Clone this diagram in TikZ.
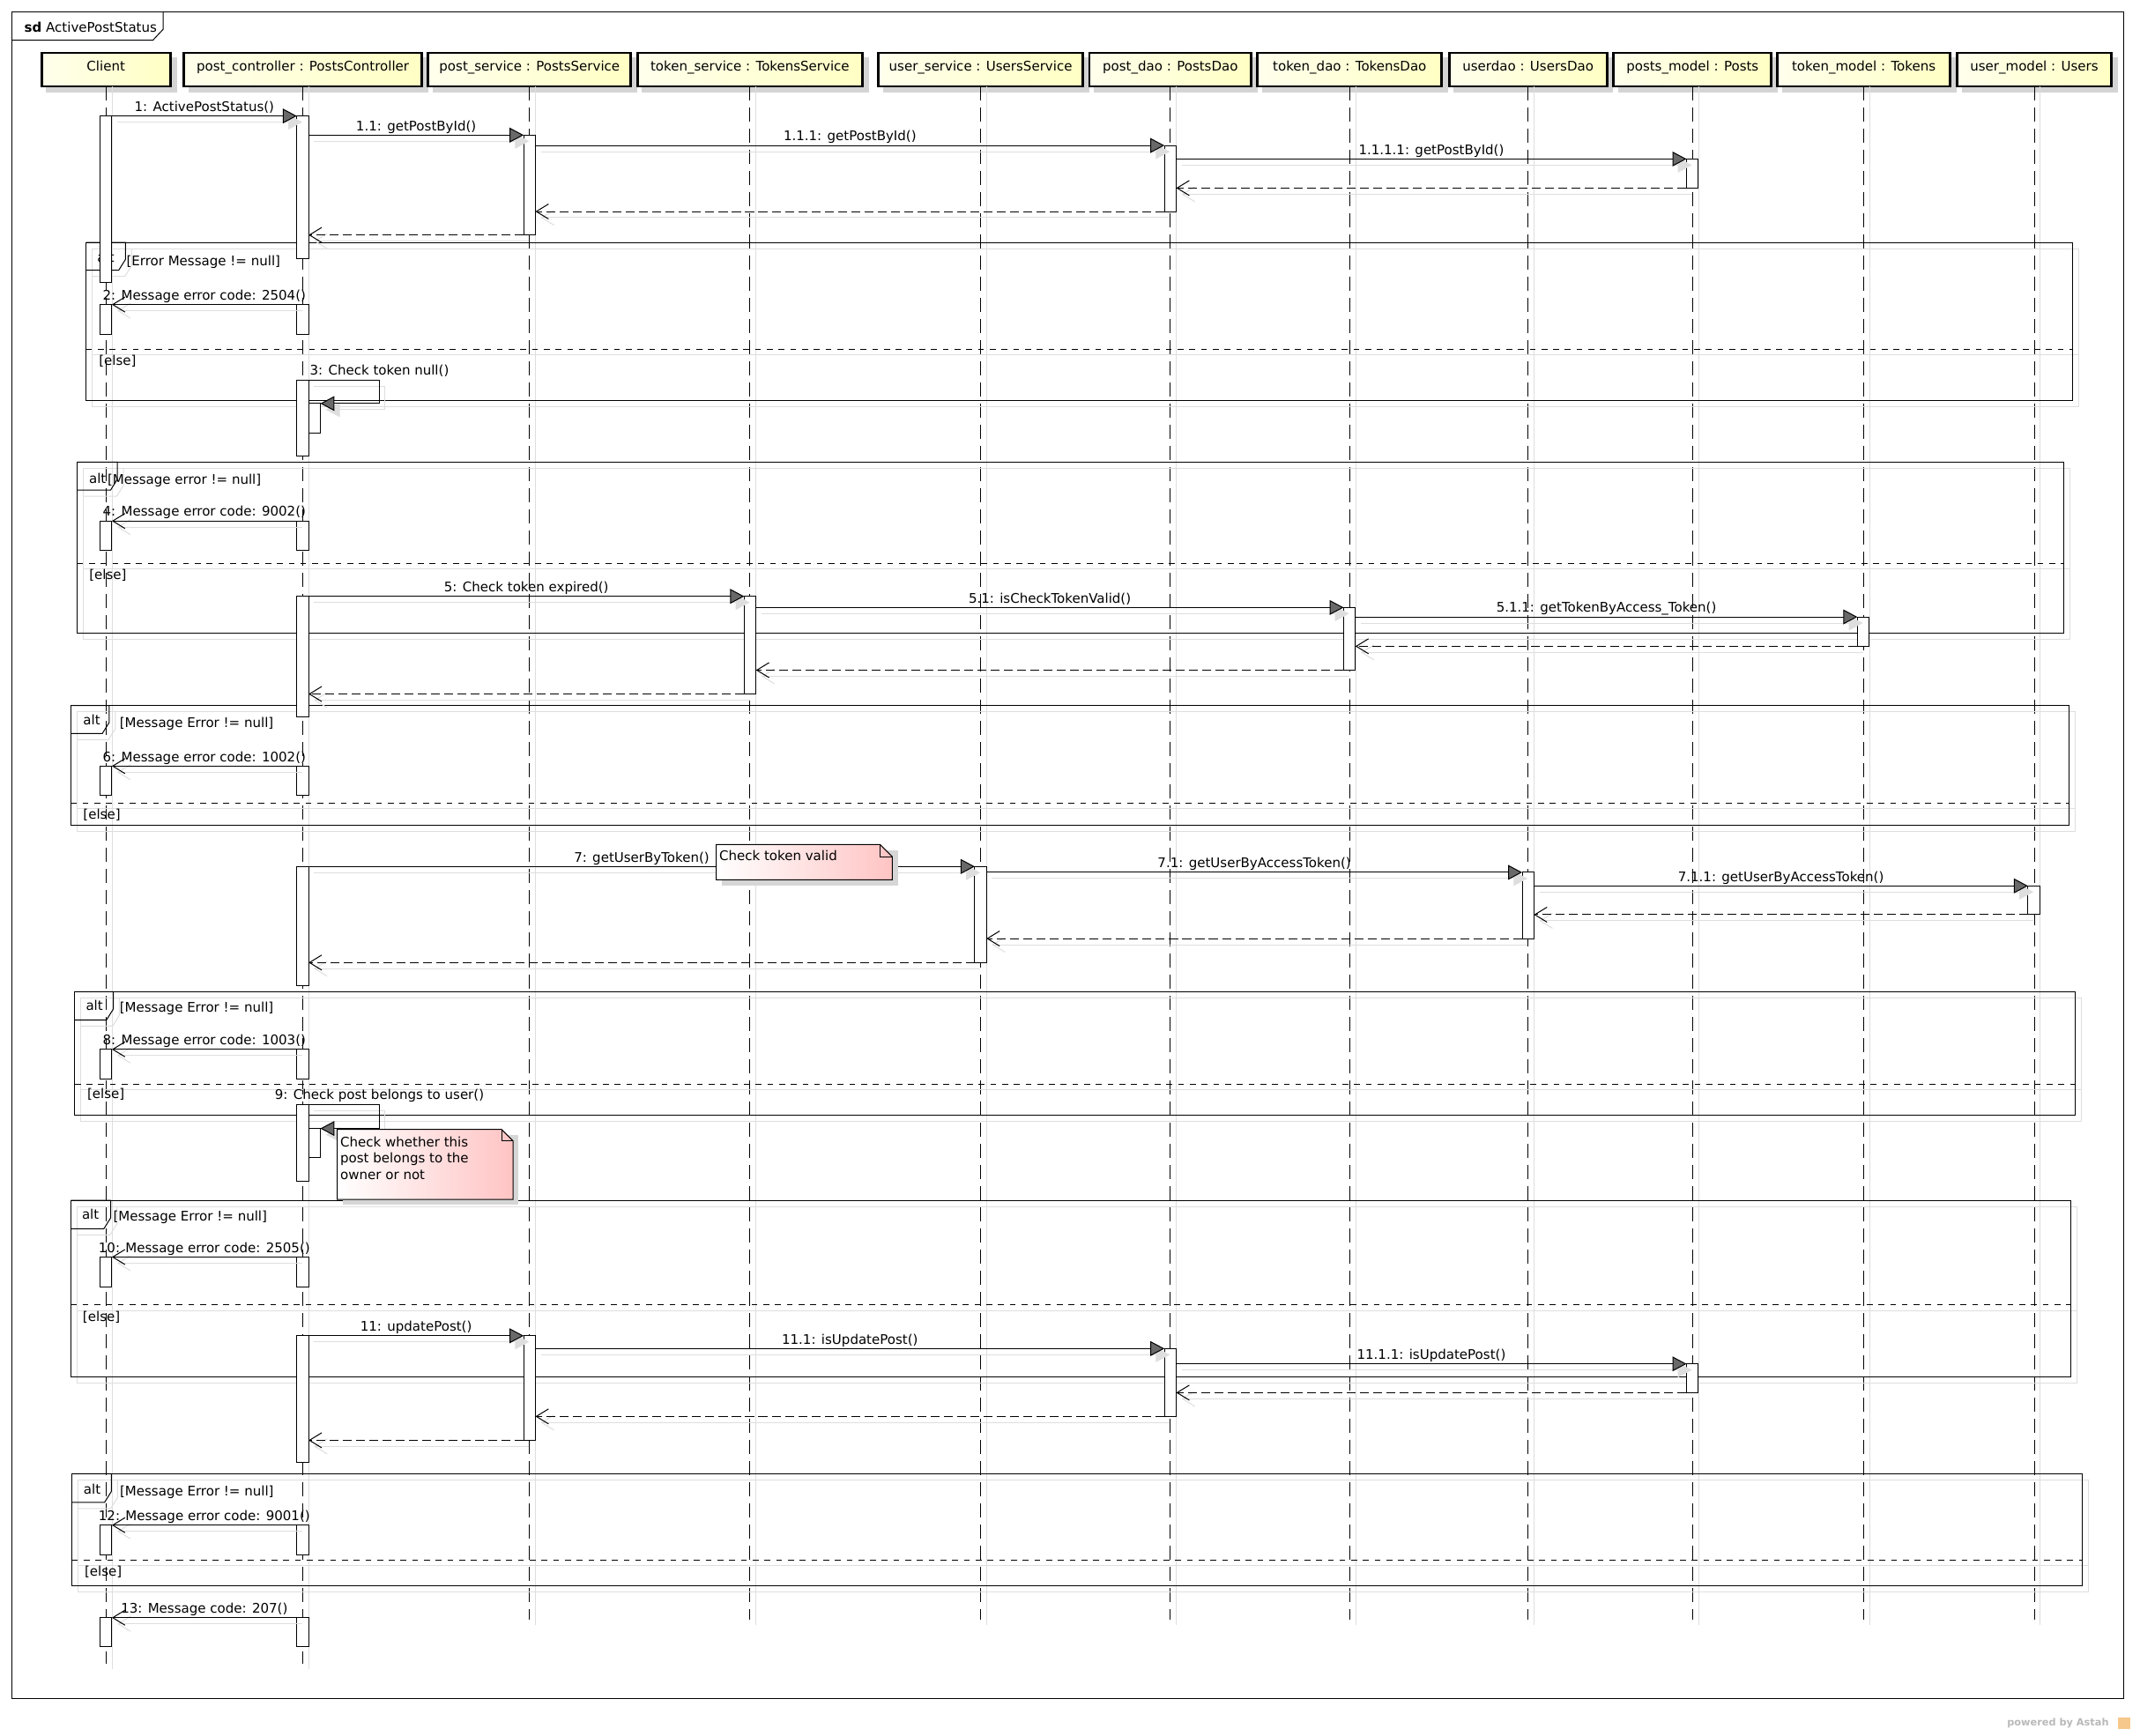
\documentclass[tikz,border=0pt]{standalone}
\usepackage{fontspec}
\setmainfont{DejaVu Sans}
\usetikzlibrary{arrows.meta}
\definecolor{shd}{RGB}{222,222,222}
\definecolor{headshd}{RGB}{212,212,212}
\definecolor{noteshd}{RGB}{214,214,214}
\definecolor{tipgray}{RGB}{105,105,105}
\definecolor{headL}{RGB}{255,255,236}
\definecolor{headR}{RGB}{255,255,196}
\definecolor{noteR}{RGB}{255,196,196}
\definecolor{astahgray}{RGB}{185,185,185}
\definecolor{astahicon}{RGB}{246,200,140}
\newcommand\dfont{\fontsize{9.7pt}{12pt}\selectfont}

% lifeline head: shadow, box, caption
\newcommand\headbox[4]{%
  \fill[headshd] ({#2-#3/2+4},42) rectangle ({#2+#3/2+4},68);
  \node[head, minimum width={#3-1.5}] (#1) at (#2,51) {};
  \node[headtxt] (#1t) at (#2,51.7) {#4};}
% lifeline from head down to an end coordinate
\newcommand\lifeline[3]{%
  \coordinate (#2) at (#1.south |- 0,#3);
  \draw[lifesh] ([xshift=4.5pt]#1.south) -- ([xshift=4.5pt,yshift=-4pt]#2);
  \draw[life] (#1.south) -- (#2);}
% activation bar: name, x, top, bottom
\newcommand\actv[4]{\node[act, minimum height={#4-#3}] (#1) at (#2,{(#3+#4)/2}) {};}
% messages
\newcommand\callm[4]{%
  \draw[callsh] (#1) -- (#2);
  \draw[call] (#1) -- node[lbl] (#3) {#4} (#2);}
\newcommand\retm[2]{%
  \draw[retsh] (#1) -- (#2);
  \draw[ret] (#1) -- (#2);}
\newcommand\asyncm[4]{%
  \draw[retsh] (#1) -- (#2);
  \draw[async] (#1) -- node[lbl] (#3) {#4} (#2);}
\newcommand\selfm[5]{%
  \draw[callsh] (#1.north east) -- (#3) -- (#3 |- #2.north) -- (#2.north east);
  \draw[call] (#1.north east) -- (#3) node[lblself] (#4) {#5} -- (#3 |- #2.north) -- (#2.north east);}
% combined fragment: x1 y1 x2 y2 separator tab-right tab-bottom
\newcommand\altfrag[7]{%
  \draw[fragsh] ({#1+4.5},{#2+4.5}) rectangle ({#3+4.5},{#4+4.5});
  \draw[fragsh] ({#1+4.5},{#5+4}) -- ({#3+4.5},{#5+4});
  \draw[fragsh] ({#6+4.5},{#2+4.5}) -- ({#6+4.5},{#7-3.5}) -- ({#6-0.5},{#7+4.5}) -- ({#1+4.5},{#7+4.5});
  \draw[frag] (#1,#2) rectangle (#3,#4);
  \draw[frag, dash pattern=on 4.3pt off 4.3pt] (#1,#5) -- (#3,#5);
  \draw[frag] (#1,#2) -- (#6,#2) -- (#6,{#7-8}) -- ({#6-5},#7) -- (#1,#7);}
% note with folded corner: x1 y1 x2 y2 fold
\newcommand\notebox[5]{%
  \fill[noteshd] ({#1+4},{#2+4}) rectangle ({#3+4},{#4+4});
  \draw[line width=0.65pt, left color=white, right color=noteR] (#1,#2) -- ({#3-#5},#2) -- (#3,{#2+#5}) -- (#3,#4) -- (#1,#4) -- cycle;
  \draw[line width=0.65pt] ({#3-#5},#2) -- ({#3-#5},{#2+#5}) -- (#3,{#2+#5});}

\begin{document}
\begin{tikzpicture}[x=1pt, y=-1pt, font=\dfont,
  frag/.style={draw=black, line width=0.65pt},
  fragsh/.style={draw=shd, line width=0.65pt},
  life/.style={draw=black, line width=0.65pt, dash pattern=on 10.3pt off 5.2pt},
  lifesh/.style={draw=shd, line width=0.65pt},
  head/.style={draw=black, line width=1.8pt, left color=headL, right color=headR, minimum height=24.5pt, inner sep=0pt, outer sep=0pt},
  headtxt/.style={anchor=base, inner sep=0pt},
  act/.style={draw=black, fill=white, line width=0.65pt, minimum width=8.6pt, inner sep=0pt, outer sep=0pt},
  lbl/.style={midway, anchor=base, yshift=3.4pt, inner sep=0pt},
  lblself/.style={anchor=base, yshift=3.6pt, inner sep=0pt},
  txt/.style={anchor=base west, inner sep=0pt},
  alttxt/.style={anchor=base, inner sep=0pt},
  call/.style={draw=black, line width=0.65pt, -{Triangle[length=10.3pt, width=10.8pt, fill=tipgray]}},
  callsh/.style={draw=shd, line width=0.65pt, -{Triangle[length=10.3pt, width=10.8pt, fill=shd]}, transform canvas={shift={(4pt,-4.5pt)}}},
  ret/.style={draw=black, line width=0.65pt, dash pattern=on 6.5pt off 3.2pt, -{Straight Barb[length=9pt, width=11pt]}},
  retsh/.style={draw=shd, line width=0.65pt, -{Straight Barb[length=9pt, width=11pt]}, transform canvas={shift={(4pt,-4.5pt)}}},
  async/.style={draw=black, line width=0.65pt, -{Straight Barb[length=9pt, width=11pt]}},
]
\useasboundingbox (0,0) rectangle (1568,1272);
\fill[white] (0,0) rectangle (1568,1272);

% outer sd frame
\draw[frag] (8.6,8.6) rectangle (1556,1245);
\draw[frag] (8.6,29.5) -- (112,29.5) -- (119.5,21.5) -- (119.5,8.6);
\node[txt] (title) at (17.7,23.5) {\textbf{sd} ActivePostStatus};

% lifeline heads
\headbox{hC}{77.65}{95.9}{Client}
\headbox{hK}{221.9}{175.5}{post\_controller : PostsController}
\headbox{hS}{388}{150}{post\_service : PostsService}
\headbox{hT}{549.5}{166.4}{token\_service : TokensService}
\headbox{hU}{718.5}{151}{user\_service : UsersService}
\headbox{hP}{857.5}{120}{post\_dao : PostsDao}
\headbox{hD}{988.9}{136.5}{token\_dao : TokensDao}
\headbox{hE}{1119.6}{117}{userdao : UsersDao}
\headbox{hM}{1240.1}{117}{posts\_model : Posts}
\headbox{hN}{1365.6}{128.2}{token\_model : Tokens}
\headbox{hO}{1490.5}{114.2}{user\_model : Users}

% lifelines
\lifeline{hC}{eC}{1219}
\lifeline{hK}{eK}{1219}
\lifeline{hS}{eS}{1187}
\lifeline{hT}{eT}{1187}
\lifeline{hU}{eU}{1187}
\lifeline{hP}{eP}{1187}
\lifeline{hD}{eD}{1187}
\lifeline{hE}{eE}{1187}
\lifeline{hM}{eM}{1187}
\lifeline{hN}{eN}{1187}
\lifeline{hO}{eO}{1187}

% combined fragments
\altfrag{63}{177.7}{1518.5}{293.5}{255.9}{92}{198}
\node[alttxt] (a1) at (77.5,192) {alt};
\node[txt] (g1) at (92.5,194.6) {[Error Message != null]};
\node[txt] (s1) at (72.3,267.5) {[else]};

\altfrag{56.7}{338.7}{1512.4}{463.9}{413}{86}{359.2}
\node[alttxt] (a2) at (71.5,354.3) {alt};
\node[txt] (g2) at (78.6,354.6) {[Message error != null]};
\node[txt] (s2) at (65.2,424.5) {[else]};

\altfrag{51.9}{517}{1516.2}{604.5}{588.7}{80}{537.5}
\node[alttxt] (a3) at (67.2,531) {alt};
\node[txt] (g3) at (87.5,532.9) {[Message Error != null]};
\node[txt] (s3) at (60.8,600.2) {[else]};

\altfrag{54.8}{726.7}{1520.3}{817.2}{794.4}{83}{747.5}
\node[alttxt] (a4) at (69.2,740.5) {alt};
\node[txt] (g4) at (87.5,742) {[Message Error != null]};
\node[txt] (s4) at (63.8,805.2) {[else]};

\altfrag{51.9}{879.7}{1517}{1009}{956.3}{81.1}{900.5}
\node[alttxt] (a5) at (66.3,893.4) {alt};
\node[txt] (g5) at (82.8,894.8) {[Message Error != null]};
\node[txt] (s5) at (60.5,968.5) {[else]};

\altfrag{52.7}{1080}{1525.5}{1162}{1143.3}{81.6}{1101}
\node[alttxt] (a6) at (67.5,1094.7) {alt};
\node[txt] (g6) at (87.7,1096.2) {[Message Error != null]};
\node[txt] (s6) at (61.8,1155.2) {[else]};

% activation bars
\actv{cA}{77.65}{85}{207}
\actv{cB}{77.65}{223.2}{245}
\actv{cC}{77.65}{381.8}{403.3}
\actv{cD}{77.65}{561.4}{583}
\actv{cE}{77.65}{769}{791}
\actv{cF}{77.65}{921.2}{943}
\actv{cG}{77.65}{1117.7}{1139.3}
\actv{cH}{77.65}{1185.5}{1206.6}

\actv{kA}{221.8}{85}{189.3}
\actv{kB}{221.8}{223.2}{245}
\actv{kC}{221.8}{278.6}{334}
\actv{kC2}{230.4}{295.7}{317.2}
\actv{kD}{221.8}{381.8}{403.3}
\actv{kE}{221.8}{437}{525.4}
\actv{kF}{221.8}{561.4}{583}
\actv{kG}{221.8}{635}{722.2}
\actv{kH}{221.8}{769}{791}
\actv{kI}{221.8}{809.4}{865.4}
\actv{kI2}{230.4}{827}{848.2}
\actv{kJ}{221.8}{921.2}{943}
\actv{kK}{221.8}{978.9}{1072}
\actv{kL}{221.8}{1117.7}{1139.3}
\actv{kM}{221.8}{1185.5}{1206.6}

\actv{sA}{388}{99}{172.2}
\actv{sB}{388}{978.9}{1055.5}
\actv{tA}{549.6}{437}{508.6}
\actv{uA}{718.5}{635}{705.4}
\actv{pA}{857.5}{106.6}{155}
\actv{pB}{857.5}{988.3}{1038}
\actv{dA}{988.8}{445.2}{491.1}
\actv{eA}{1119.6}{639.3}{687.8}
\actv{mA}{1240}{116.5}{137.8}
\actv{mB}{1240}{999.5}{1020.6}
\actv{nA}{1365.2}{452.1}{473.6}
\actv{oA}{1490.2}{649.2}{670.3}

% 1: fetch the post
\callm{cA.north east}{kA.north west}{m1}{1: ActivePostStatus()}
\callm{kA.east |- sA.north}{sA.north west}{m11}{1.1: getPostById()}
\callm{sA.east |- pA.north}{pA.north west}{m111}{1.1.1: getPostById()}
\callm{pA.east |- mA.north}{mA.north west}{m1111}{1.1.1.1: getPostById()}
\retm{mA.south west}{pA.east |- mA.south}
\retm{pA.south west}{sA.east |- pA.south}
\retm{sA.south west}{kA.east |- sA.south}

\asyncm{kB.north west}{cB.north east}{m2}{2: Message error code: 2504()}
\coordinate (l3) at (278,278.6);
\selfm{kC}{kC2}{l3}{m3}{3: Check token null()}

\asyncm{kD.north west}{cC.north east}{m4}{4: Message error code: 9002()}

% 5: token expiry check
\callm{kE.north east}{tA.north west}{m5}{5: Check token expired()}
\callm{tA.east |- dA.north}{dA.north west}{m51}{5.1: isCheckTokenValid()}
\callm{dA.east |- nA.north}{nA.north west}{m511}{5.1.1: getTokenByAccess\_Token()}
\retm{nA.south west}{dA.east |- nA.south}
\retm{dA.south west}{tA.east |- dA.south}
\retm{tA.south west}{kE.east |- tA.south}

\asyncm{kF.north west}{cD.north east}{m6}{6: Message error code: 1002()}

% 7: user lookup
\callm{kG.north east}{uA.north west}{m7}{7: getUserByToken()}
\callm{uA.east |- eA.north}{eA.north west}{m71}{7.1: getUserByAccessToken()}
\callm{eA.east |- oA.north}{oA.north west}{m711}{7.1.1: getUserByAccessToken()}
\retm{oA.south west}{eA.east |- oA.south}
\retm{eA.south west}{uA.east |- eA.south}
\retm{uA.south west}{kG.east |- uA.south}

\asyncm{kH.north west}{cE.north east}{m8}{8: Message error code: 1003()}
\coordinate (l9) at (278,809.4);
\selfm{kI}{kI2}{l9}{m9}{9: Check post belongs to user()}

\asyncm{kJ.north west}{cF.north east}{m10}{10: Message error code: 2505()}

% 11: update the post
\callm{kK.north east}{sB.north west}{m11u}{11: updatePost()}
\callm{sB.east |- pB.north}{pB.north west}{m111u}{11.1: isUpdatePost()}
\callm{pB.east |- mB.north}{mB.north west}{m1111u}{11.1.1: isUpdatePost()}
\retm{mB.south west}{pB.east |- mB.south}
\retm{pB.south west}{sB.east |- pB.south}
\retm{sB.south west}{kK.east |- sB.south}

\asyncm{kL.north west}{cG.north east}{m12}{12: Message error code: 9001()}
\asyncm{kM.north west}{cH.north east}{m13}{13: Message code: 207()}

% notes
\notebox{524.8}{618.9}{653.8}{644.7}{9}
\node[txt] (n1) at (526.8,630.6) {Check token valid};
\notebox{247.1}{827.7}{376}{879}{8.5}
\node[txt] (n2a) at (249.2,840.3) {Check whether this};
\node[txt] (n2b) at (249.2,852.3) {post belongs to the};
\node[txt] (n2c) at (249.2,864.3) {owner or not};

% footer mark
\node[txt, text=astahgray, font=\fontsize{7.3pt}{8pt}\selectfont\bfseries] (astah) at (1470.5,1264.8) {powered by Astah};
\fill[astahicon] (1552,1258.6) rectangle (1561,1267);
\end{tikzpicture}
\end{document}
